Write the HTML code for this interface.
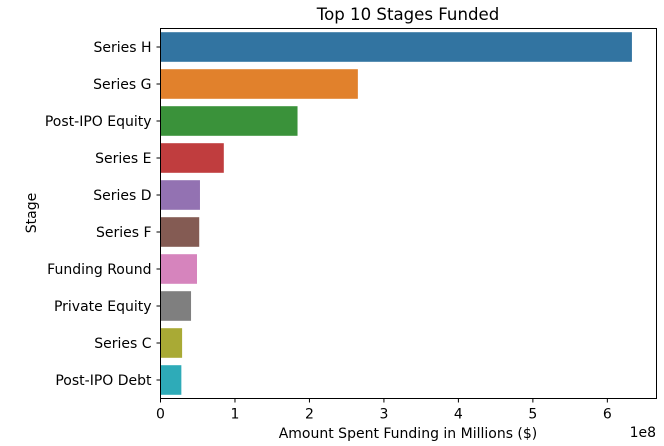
<!DOCTYPE html>
<html><head><meta charset="utf-8"><style>
html,body{margin:0;padding:0;background:#fff;}
svg{display:block;font-family:"DejaVu Sans","Liberation Sans",sans-serif;}
</style></head><body>
<svg id="chart" width="664" height="446">
<text x="408" y="20" font-size="16.6" text-anchor="middle">Top 10 Stages Funded</text>
<g id="bars"></g>
<g id="xticks"></g>
<g id="yticks"></g>
<rect x="160.5" y="28.5" width="496" height="370" fill="none" stroke="#000" stroke-width="1"/>
<text x="408" y="438" font-size="14" text-anchor="middle">Amount Spent Funding in Millions ($)</text>
<text x="656" y="437" font-size="14" text-anchor="end">1e8</text>
<text x="36" y="213" font-size="14" text-anchor="middle" transform="rotate(-90 36 213)">Stage</text>
</svg>
<script>
const categories = ["Series H","Series G","Post-IPO Equity","Series E","Series D","Series F","Funding Round","Private Equity","Series C","Post-IPO Debt"];
const values = [6.33,2.65,1.84,0.85,0.53,0.52,0.49,0.41,0.29,0.28];
const colors = ["#3274a1","#e1812c","#3a923a","#c03d3e","#9372b2","#845b53","#d684bd","#7f7f7f","#a9aa35","#2eabb8"];
const xTicks = [0,1,2,3,4,5,6];
const NS="http://www.w3.org/2000/svg";
const L=160.5, T=28.5, W=496, H=370, XMAX=6.66;
const xs=v=>L+v/XMAX*W;
const band=H/categories.length;
const ys=i=>T+band*(i+0.5);
const bars=document.getElementById('bars'), xt=document.getElementById('xticks'), yt=document.getElementById('yticks');
function mk(tag,attrs,parent){const e=document.createElementNS(NS,tag);for(const k in attrs)e.setAttribute(k,attrs[k]);parent.appendChild(e);return e;}
categories.forEach((c,i)=>{
  const r=mk('rect',{x:L,y:ys(i)-band*0.4,width:xs(values[i])-L,height:band*0.8,fill:colors[i]},bars);
  
  
  mk('line',{x1:L-4,x2:L,y1:ys(i),y2:ys(i),stroke:'#000'},yt);
  const t=mk('text',{x:L-9,y:ys(i)+5,'font-size':14,'text-anchor':'end'},yt);
  t.textContent=c;
  
  
});
xTicks.forEach(v=>{
  mk('line',{x1:xs(v),x2:xs(v),y1:T+H,y2:T+H+4,stroke:'#000'},xt);
  const t=mk('text',{x:xs(v),y:T+H+20,'font-size':14,'text-anchor':'middle'},xt);
  t.textContent=v;
  
  
});
</script>
</body></html>
